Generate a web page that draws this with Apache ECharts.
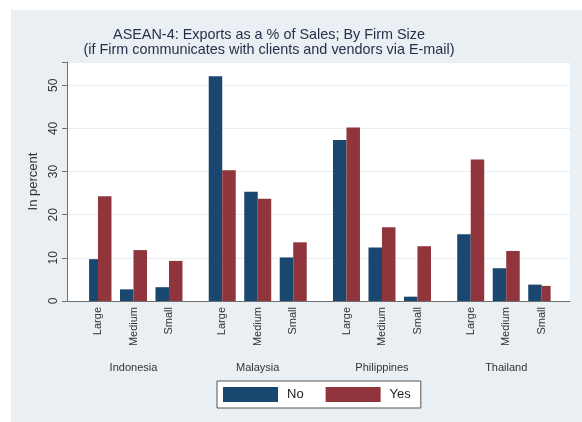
<!DOCTYPE html>
<html>
<head>
<meta charset="utf-8">
<script src="https://cdn.jsdelivr.net/npm/echarts@6/dist/echarts.min.js"></script>
<style>html,body{margin:0;padding:0;background:#e9eff2;overflow:hidden}#c{width:582px;height:422px}</style>
</head>
<body>
<div id="c"></div>
<script>
const countries = ['Indonesia', 'Malaysia', 'Philippines', 'Thailand'];
const sizes = ['Large', 'Medium', 'Small'];
const noValues  = [9.7, 2.7, 3.2, 52.1, 25.3, 10.1, 37.3, 12.4, 1.0, 15.5, 7.6, 3.8];
const yesValues = [24.3, 11.8, 9.3, 30.3, 23.7, 13.6, 40.2, 17.1, 12.7, 32.8, 11.6, 3.5];
const seriesNames = ['No', 'Yes'];
const yTicks = [0, 10, 20, 30, 40, 50];

// slot layout: each bar pair at every 2nd slot, groups separated by 3 slots
const nSlots = countries.length * 7 - 2;
const slotIds = [], sizeLabels = [], countryLabels = [];
const noData = [], yesData = [];
for (let i = 0; i < nSlots; i++) {
  slotIds.push('s' + i); sizeLabels.push(''); countryLabels.push('');
  noData.push('-'); yesData.push('-');
}
countries.forEach((c, g) => {
  sizes.forEach((s, k) => {
    const idx = g * 7 + k * 2;
    sizeLabels[idx] = s;
    noData[idx] = noValues[g * 3 + k];
    yesData[idx] = yesValues[g * 3 + k];
  });
  countryLabels[g * 7 + 2] = c;
});

const FONT = '"Liberation Sans", Arial, sans-serif';
const TXT = '#333333';
const AX = '#707070';
const YMAX = 55.4;

const chart = echarts.init(document.getElementById('c'), null, {renderer: 'canvas'});
chart.setOption({
  animation: false,
  backgroundColor: '#e9eff2',
  textStyle: {fontFamily: FONT},
  graphic: [
    {type: 'rect', shape: {x: 0, y: 0, width: 11, height: 422}, style: {fill: '#ffffff'}, silent: true},
    {type: 'rect', shape: {x: 0, y: 0, width: 582, height: 10}, style: {fill: '#ffffff'}, silent: true}
  ],
  title: {
    text: 'ASEAN-4: Exports as a % of Sales; By Firm Size\n(if Firm communicates with clients and vendors via E-mail)',
    left: 269, top: 28, textAlign: 'center', padding: 0,
    textStyle: {fontFamily: FONT, fontSize: 14.4, fontWeight: 'normal', color: '#27304a', lineHeight: 14.5}
  },
  legend: {
    data: seriesNames,
    left: 217, top: 381,
    padding: [6, 10, 6, 6],
    itemWidth: 55, itemHeight: 15, itemGap: 22,
    backgroundColor: '#ffffff', borderColor: '#555555', borderWidth: 1, borderRadius: 0,
    icon: 'rect',
    textStyle: {fontFamily: FONT, fontSize: 13, color: '#222222', padding: [0, 0, 0, 4]}
  },
  grid: [
    {left: 67, right: 12, top: 62, bottom: 121, show: true, backgroundColor: '#ffffff', borderWidth: 0},
    {left: 89.1, right: 31.4, top: 62, bottom: 121}
  ],
  xAxis: [
    {gridIndex: 0, type: 'value', min: 0, max: 1,
     axisLine: {show: true, lineStyle: {color: AX, width: 1}},
     axisTick: {show: false}, axisLabel: {show: false}, splitLine: {show: false}},
    {gridIndex: 1, type: 'category', data: slotIds, boundaryGap: true,
     axisLine: {show: false}, axisTick: {show: false}, splitLine: {show: false},
     axisLabel: {interval: 0, rotate: 90, margin: 6, fontSize: 11, color: TXT, fontFamily: FONT,
       formatter: (v, i) => sizeLabels[i]}},
    {gridIndex: 1, type: 'category', data: slotIds, boundaryGap: true, position: 'bottom',
     axisLine: {show: false}, axisTick: {show: false}, splitLine: {show: false},
     axisLabel: {interval: 0, margin: 61, fontSize: 11, color: TXT, fontFamily: FONT,
       formatter: (v, i) => countryLabels[i]}}
  ],
  yAxis: [
    {gridIndex: 0, type: 'value', min: 0, max: YMAX, interval: 10,
     name: 'In percent', nameLocation: 'middle', nameRotate: 90, nameGap: 25,
     nameTextStyle: {fontFamily: FONT, fontSize: 13, color: TXT},
     axisLine: {show: true, lineStyle: {color: AX, width: 1}},
     axisTick: {show: true, length: 5, lineStyle: {color: AX}},
     axisLabel: {rotate: 90, margin: 7, fontSize: 12, color: TXT, fontFamily: FONT,
       formatter: v => (yTicks.indexOf(v) >= 0 ? String(v) : '')},
     splitLine: {show: true, lineStyle: {color: '#e8eef1', width: 1}}},
    {gridIndex: 1, type: 'value', min: 0, max: YMAX, show: false}
  ],
  series: [
    {name: seriesNames[0], type: 'bar', xAxisIndex: 1, yAxisIndex: 1, data: noData,
     barWidth: 13.5, barGap: '0%', itemStyle: {color: '#1a476f'}},
    {name: seriesNames[1], type: 'bar', xAxisIndex: 1, yAxisIndex: 1, data: yesData,
     barWidth: 13.5, barGap: '0%', itemStyle: {color: '#90353b'}}
  ]
});
</script>
</body>
</html>
